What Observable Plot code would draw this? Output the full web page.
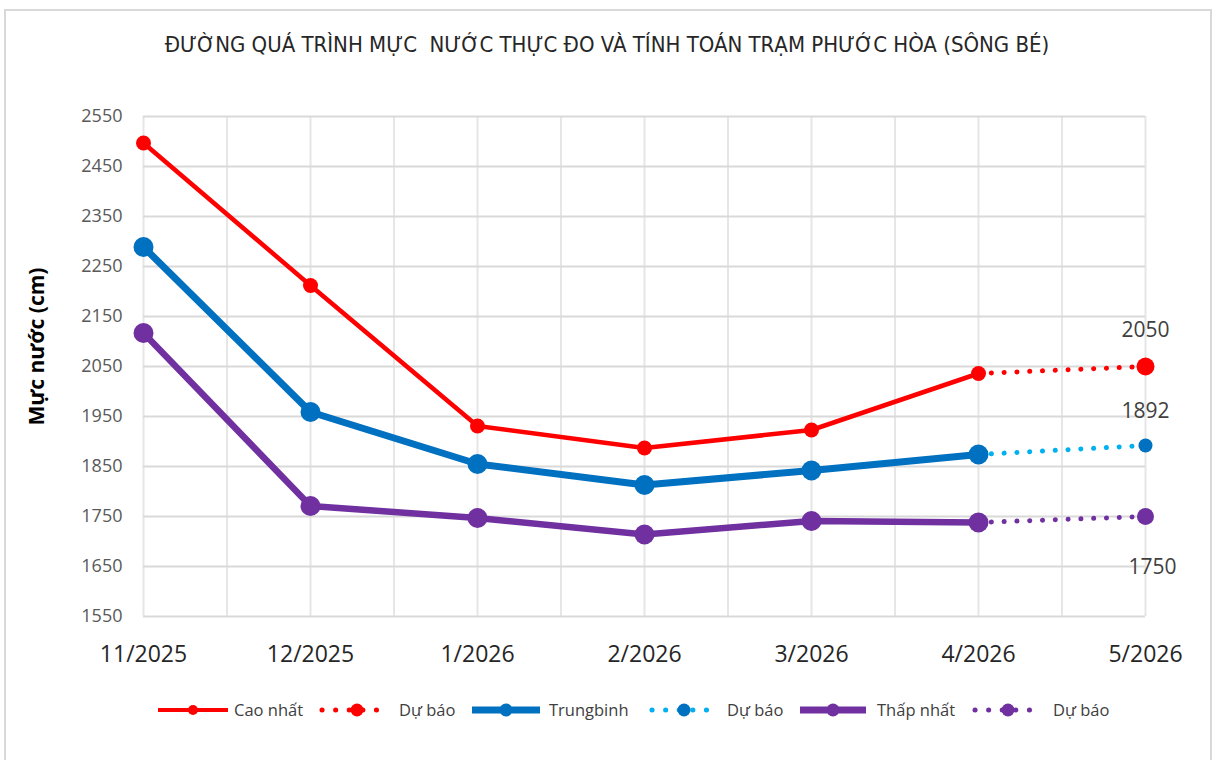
<!DOCTYPE html>
<html><head><meta charset="utf-8">
<script src="https://cdn.jsdelivr.net/npm/d3@7"></script>
<script src="https://cdn.jsdelivr.net/npm/@observablehq/plot@0.6"></script>
<style>
body{margin:0;background:#fff;font-family:"Open Sans",sans-serif;width:1214px;height:760px;overflow:hidden;position:relative;}
#frame{position:absolute;left:4px;top:9px;width:1208px;height:760px;border:2px solid #d9d9d9;border-bottom:none;box-sizing:border-box;}
#title{position:absolute;left:0;top:32px;width:1214px;text-align:center;font-family:"Liberation Sans Narrow","DejaVu Sans Condensed",sans-serif;font-size:22px;color:#262626;white-space:pre;}
#chart{position:absolute;left:0;top:80px;}
#legend{position:absolute;left:0;top:695px;}
</style></head>
<body>
<div id="frame"></div>
<div id="title">ĐƯỜNG QUÁ TRÌNH MỰC  NƯỚC THỰC ĐO VÀ TÍNH TOÁN TRẠM PHƯỚC HÒA (SÔNG BÉ)</div>
<div id="chart"></div>
<div id="legend"></div>
<script>
const months = ["11/2025","12/2025","1/2026","2/2026","3/2026","4/2026","5/2026"];
const caoNhat = [2497, 2212, 1931, 1887, 1923, 2036];
const trungBinh = [2289, 1959, 1855, 1813, 1842, 1874];
const thapNhat = [2117, 1771, 1747, 1714, 1741, 1738];
const duBaoCao = [2036, 2050];
const duBaoTB = [1874, 1892];
const duBaoThap = [1738, 1750];
const yTicks = [1550, 1650, 1750, 1850, 1950, 2050, 2150, 2250, 2350, 2450, 2550];
const legendLabels = ["Cao nhất", "Dự báo", "Trungbinh", "Dự báo", "Thấp nhất", "Dự báo"];

const RED = "#ff0000", BLUE = "#0070c0", LBLUE = "#00b0f0", PURPLE = "#7030a0";

const obs = arr => arr.map((v, i) => ({i, v}));
const fc = arr => arr.map((v, k) => ({i: 5 + k, v}));
const cao = obs(caoNhat), tb = obs(trungBinh), thap = obs(thapNhat);
const fCao = fc(duBaoCao), fTB = fc(duBaoTB), fThap = fc(duBaoThap);
const dotted = {strokeDasharray: "0.1 12.7", strokeLinecap: "round", strokeWidth: 5};

const chart = Plot.plot({
  width: 1214, height: 600,
  marginLeft: 143, marginRight: 69, marginTop: 36, marginBottom: 64,
  x: {type: "linear", domain: [0, 6]},
  y: {domain: [1550, 2550]},
  style: {background: "transparent", fontFamily: "Open Sans, sans-serif"},
  marks: [
    Plot.ruleX(d3.range(0, 6.01, 0.5), {y1: 1550, y2: 2550, stroke: "#e6e6e6", strokeWidth: 2, strokeOpacity: 1}),
    Plot.ruleY(yTicks, {stroke: "#d9d9d9", strokeWidth: 2, strokeOpacity: 1}),
    Plot.axisY(yTicks, {tickSize: 0, tickPadding: 21, fontSize: 18, fill: "#595959", label: null, tickFormat: d => String(d)}),
    Plot.axisX(d3.range(7), {tickSize: 0, tickPadding: 29, fontSize: 23, fill: "#262626", tickFormat: i => months[i], label: null}),
    Plot.text(["Mực nước (cm)"], {frameAnchor: "left", textAnchor: "middle", dx: -106, dy: -20, rotate: -90, fontSize: 21, fontWeight: "bold", fill: "#000"}),
    Plot.line(fCao, {x: "i", y: "v", stroke: RED, ...dotted}),
    Plot.line(fTB, {x: "i", y: "v", stroke: LBLUE, ...dotted}),
    Plot.line(fThap, {x: "i", y: "v", stroke: PURPLE, ...dotted}),
    Plot.line(thap, {x: "i", y: "v", stroke: PURPLE, strokeWidth: 6.5}),
    Plot.line(tb, {x: "i", y: "v", stroke: BLUE, strokeWidth: 7}),
    Plot.line(cao, {x: "i", y: "v", stroke: RED, strokeWidth: 4.5}),
    Plot.dot(thap, {x: "i", y: "v", r: 10, fill: PURPLE}),
    Plot.dot(tb, {x: "i", y: "v", r: 10, fill: BLUE}),
    Plot.dot(cao, {x: "i", y: "v", r: 7.5, fill: RED}),
    Plot.dot(fCao.slice(1), {x: "i", y: "v", r: 9, fill: RED}),
    Plot.dot(fTB.slice(1), {x: "i", y: "v", r: 7, fill: BLUE}),
    Plot.dot(fThap.slice(1), {x: "i", y: "v", r: 8.5, fill: PURPLE}),
    Plot.text(fCao.slice(1), {x: "i", y: "v", text: d => String(d.v), dy: -36, fontSize: 21, fill: "#404040"}),
    Plot.text(fTB.slice(1), {x: "i", y: "v", text: d => String(d.v), dy: -34, fontSize: 21, fill: "#404040"}),
    Plot.text(fThap.slice(1), {x: "i", y: "v", text: d => String(d.v), dy: 51, dx: 7, fontSize: 21, fill: "#404040"})
  ]
});
document.getElementById("chart").appendChild(chart);

// legend
const items = [
  {kind: "solid", color: RED, x0: 158, x1: 228, m: 193, w: 4, r: 5, tx: 234},
  {kind: "dot", color: RED, mc: RED, x0: 322, x1: 390, m: 357, r: 6.5, tx: 399},
  {kind: "solid", color: BLUE, x0: 472, x1: 540, m: 506, w: 7, r: 6.5, tx: 549},
  {kind: "dot", color: LBLUE, mc: BLUE, x0: 652, x1: 716, m: 684, r: 6.5, tx: 727},
  {kind: "solid", color: PURPLE, x0: 800, x1: 866, m: 833, w: 7, r: 6.5, tx: 877},
  {kind: "dot", color: PURPLE, mc: PURPLE, x0: 975, x1: 1042, m: 1008, r: 6.5, tx: 1053}
];
const lg = d3.select("#legend").append("svg").attr("width", 1214).attr("height", 30);
items.forEach((it, k) => {
  const cy = 15;
  if (it.kind === "solid") {
    lg.append("line").attr("x1", it.x0).attr("x2", it.x1).attr("y1", cy).attr("y2", cy)
      .attr("stroke", it.color).attr("stroke-width", it.w);
    lg.append("circle").attr("cx", it.m).attr("cy", cy).attr("r", it.r).attr("fill", it.color);
  } else {
    lg.append("line").attr("x1", it.x0).attr("x2", it.x1).attr("y1", cy).attr("y2", cy)
      .attr("stroke", it.color).attr("stroke-width", 5).attr("stroke-linecap", "round")
      .attr("stroke-dasharray", "0.1 13.5");
    lg.append("circle").attr("cx", it.m).attr("cy", cy).attr("r", it.r).attr("fill", it.mc);
  }
  lg.append("text").attr("x", it.tx).attr("y", cy).attr("dy", "0.35em")
    .attr("font-family", "Open Sans, sans-serif").attr("font-size", 16.5).attr("fill", "#404040")
    .text(legendLabels[k]);
});
</script>
</body></html>
